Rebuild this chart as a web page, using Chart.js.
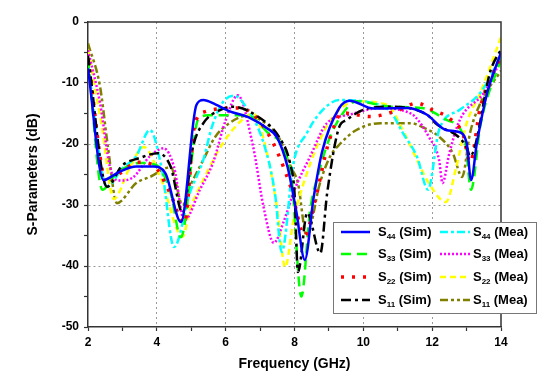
<!DOCTYPE html>
<html>
<head>
<meta charset="utf-8">
<script src="https://cdn.jsdelivr.net/npm/chart.js@4"></script>
<style>
  body { margin: 0; background: #fff; }
  #wrap { width: 550px; height: 387px; }
</style>
</head>
<body>
<div id="wrap"><canvas id="sparams"></canvas></div>
<script>
// values (GHz, dB)
const s44SimX = [2, 2.45, 2.9, 3.4, 3.9, 4.25, 4.7, 5.15, 5.35, 5.7, 6.1, 6.7, 7.2, 7.5, 7.8, 8.05, 8.3, 8.55, 8.8, 9.3, 9.6, 10.3, 11.3, 11.85, 12.4, 12.75, 13.0, 13.13, 13.3, 13.6, 14];
const s44SimY = [-7.6, -25.9, -24.6, -23.7, -23.7, -24.8, -32.8, -13.6, -12.8, -13.5, -14.6, -15.7, -17.4, -19, -23.8, -31, -39, -29, -21.3, -14.1, -12.9, -14.2, -14.1, -15.2, -17.7, -18, -19.8, -25.9, -19.8, -11.6, -5];

const s33SimX = [2, 2.42, 2.8, 3.5, 4.0, 4.4, 4.7, 5.2, 5.5, 5.8, 6.6, 7.2, 7.9, 8.2, 8.45, 8.7, 9.0, 9.4, 9.8, 10.8, 11.7, 12.4, 12.95, 13.13, 13.4, 14];
const s33SimY = [-6, -27.5, -25, -23.1, -23.5, -28, -35.3, -16, -15.3, -15.3, -15.3, -18, -25, -45, -31, -24.8, -19.3, -15, -13, -13.9, -14.1, -16, -19.3, -27.5, -17, -6];

const s22SimX = [2, 2.55, 3.0, 3.45, 3.9, 4.38, 4.8, 5.1, 5.4, 6.4, 7.2, 7.87, 8.3, 8.6, 9.0, 9.4, 10.2, 11.0, 11.56, 12.0, 12.5, 12.9, 13.1, 13.4, 14];
const s22SimY = [-6, -26.5, -24.5, -23, -23.5, -28, -33, -16.9, -14.7, -14.1, -18, -26.7, -35, -29.2, -19.6, -14.9, -15.5, -14.5, -13.3, -14.4, -15.8, -18.5, -23, -14, -5.5];

const s11SimX = [2, 2.55, 3.0, 3.5, 4.03, 4.4, 4.75, 5.05, 5.35, 5.85, 6.2, 6.85, 7.6, 7.87, 8.0, 8.1, 8.37, 8.75, 8.95, 9.3, 9.5, 10.0, 10.8, 11.85, 12.1, 13.0, 13.1, 13.7, 14];
const s11SimY = [-5.5, -27, -23.5, -22.3, -21.5, -23.7, -31.3, -20.5, -16.6, -14.4, -13.9, -15.2, -19.3, -23.1, -28, -41, -31.3, -37.9, -28, -17.2, -16.1, -14.4, -13.9, -15.2, -16.6, -20.5, -22, -7.9, -4.5];

const s44MeaX = [2, 2.55, 3.0, 3.4, 3.8, 4.15, 4.5, 4.96, 5.35, 5.6, 5.9, 6.25, 6.6, 7.1, 7.43, 7.63, 7.97, 8.36, 8.74, 9.3, 10.3, 10.8, 11.15, 11.56, 11.88, 12.2, 12.8, 13.4, 13.9, 14];
const s44MeaY = [-7, -27, -24, -22, -17.7, -24.3, -36.9, -28, -22.6, -17.2, -13.3, -12.1, -14, -19.8, -28, -37.7, -23.1, -18.2, -14.9, -12.8, -13.3, -14.8, -18.2, -22.1, -27.5, -17.7, -14.4, -11.6, -6.7, -5.5];

const s33MeaX = [2, 2.35, 2.64, 2.9, 3.3, 3.8, 4.2, 4.5, 4.8, 5.25, 5.63, 6.0, 6.35, 6.8, 7.1, 7.4, 7.7, 8.0, 8.45, 8.94, 9.6, 10.5, 11.3, 11.5, 11.9, 12.2, 12.3, 12.5, 12.8, 13.5, 14];
const s33MeaY = [-4.6, -13.3, -23.8, -26, -25.5, -22, -20.7, -23.8, -32.5, -27.5, -23.1, -16.1, -12, -20.5, -30.3, -36.2, -32.5, -27.5, -22.1, -16.6, -15.2, -14.1, -14.8, -15.5, -18.8, -22.6, -26.4, -21.5, -16.1, -11.6, -6.2];

const s22MeaX = [2, 2.4, 2.75, 3.2, 3.62, 4.1, 4.75, 4.96, 5.35, 5.85, 6.2, 6.6, 6.8, 7.2, 7.5, 7.73, 7.97, 8.36, 8.83, 9.3, 9.8, 10.7, 11.1, 11.56, 11.9, 12.4, 12.7, 13.0, 13.4, 14];
const s22MeaY = [-4.5, -17, -29, -24, -20.5, -25.4, -35.2, -30.8, -25.9, -20.5, -17.7, -15.5, -15, -21.5, -30.8, -40.2, -32.5, -24.8, -18.2, -14.4, -13, -13.6, -17.2, -22.6, -26.4, -29.5, -23.8, -16.6, -11.6, -2.5];

const s11MeaX = [2, 2.35, 2.58, 2.84, 3.4, 3.8, 4.4, 4.75, 4.96, 5.35, 5.7, 6.1, 6.6, 7.0, 7.58, 7.9, 8.1, 8.35, 8.74, 9.03, 9.32, 9.8, 10.5, 11.4, 11.7, 12.2, 12.6, 12.87, 13.1, 13.4, 14];
const s11MeaY = [-3.5, -10.6, -20.5, -29.7, -26.4, -25.4, -23.8, -30, -27, -22.6, -18.8, -16.6, -15.4, -16, -19.3, -23.8, -26.4, -35, -26.4, -22.1, -20, -17.7, -16.6, -16.6, -17.2, -18.8, -21.5, -25.4, -18.2, -13.3, -8];

const xTicks = [2, 4, 6, 8, 10, 12, 14];
const yTicks = [0, -10, -20, -30, -40, -50];

const FONT = "Arial, 'Liberation Sans', sans-serif";

const pts = (xs, ys) => xs.map((x, i) => ({ x: x, y: ys[i] }));

function series(sub, kind, xs, ys, color, dash, width) {
  return {
    sub: sub, kind: kind,
    data: pts(xs, ys),
    borderColor: color,
    borderDash: dash,
    borderWidth: width || 2.5,
    pointRadius: 0,
    fill: false,
    cubicInterpolationMode: 'monotone'
  };
}

// first one ends up on top
const datasets = [
  series('44', 'Sim', s44SimX, s44SimY, '#0000ff', []),
  series('11', 'Sim', s11SimX, s11SimY, '#000000', [10, 4, 3, 4]),
  series('22', 'Sim', s22SimX, s22SimY, '#ff0000', [3, 8], 3.5),
  series('33', 'Sim', s33SimX, s33SimY, '#00ff00', [10, 6]),
  series('44', 'Mea', s44MeaX, s44MeaY, '#00ffff', [8, 3, 3, 3]),
  series('33', 'Mea', s33MeaX, s33MeaY, '#ff00ff', [2, 2]),
  series('22', 'Mea', s22MeaX, s22MeaY, '#ffff00', [6, 4]),
  series('11', 'Mea', s11MeaX, s11MeaY, '#808000', [8, 3, 3, 3, 3, 3])
];

const frame = {
  id: 'frame',
  afterDatasetsDraw(chart) {
    const { ctx, chartArea: a } = chart;
    ctx.save();
    ctx.strokeStyle = '#333';
    ctx.lineWidth = 1.5;
    ctx.beginPath();
    ctx.moveTo(a.left, a.top);
    ctx.lineTo(a.right, a.top);
    ctx.lineTo(a.right, a.bottom);
    ctx.stroke();
    ctx.restore();
  }
};

// legend with subscripts, two columns (Sim | Mea)
const legendBox = {
  id: 'legendBox',
  afterDraw(chart) {
    const ctx = chart.ctx;
    const bx = 333, by = 222, bw = 203, bh = 91;
    ctx.save();
    ctx.fillStyle = '#fff';
    ctx.fillRect(bx, by, bw, bh);
    ctx.strokeStyle = '#777';
    ctx.lineWidth = 1;
    ctx.strokeRect(bx + 0.5, by + 0.5, bw, bh);
    const order = ['44', '33', '22', '11'];
    const rows = [232, 254, 277, 300];
    const cols = { Sim: [341, 370, 378], Mea: [440, 470, 473] };
    datasets.forEach(ds => {
      const r = rows[order.indexOf(ds.sub)];
      const c = cols[ds.kind];
      ctx.strokeStyle = ds.borderColor;
      ctx.lineWidth = ds.borderWidth;
      ctx.setLineDash(ds.borderDash);
      ctx.beginPath();
      ctx.moveTo(c[0], r);
      ctx.lineTo(c[1], r);
      ctx.stroke();
      ctx.setLineDash([]);
      ctx.fillStyle = '#000';
      ctx.textBaseline = 'middle';
      ctx.textAlign = 'left';
      let x = c[2];
      ctx.font = 'bold 13px ' + FONT;
      ctx.fillText('S', x, r);
      x += ctx.measureText('S').width;
      ctx.font = 'bold 8px ' + FONT;
      ctx.fillText(ds.sub, x, r + 5);
      x += ctx.measureText(ds.sub).width;
      ctx.font = 'bold 13px ' + FONT;
      ctx.fillText(' (' + ds.kind + ')', x, r);
    });
    ctx.restore();
  }
};

const gridColor = (edges, major) => c => {
  const v = c.tick ? c.tick.value : null;
  if (v === null || edges.includes(v)) return 'rgba(0,0,0,0)';
  return major.includes(v) ? '#9a9a9a' : 'rgba(0,0,0,0)';
};

new Chart(document.getElementById('sparams'), {
  type: 'line',
  data: { datasets: datasets },
  options: {
    responsive: true,
    maintainAspectRatio: false,
    animation: false,
    layout: { padding: { left: 0, top: 22, right: 49, bottom: 0 } },
    plugins: { legend: { display: false }, tooltip: { enabled: false } },
    scales: {
      x: {
        type: 'linear',
        min: 2, max: 14,
        afterFit: s => { s.height = 60; },
        ticks: {
          stepSize: 1, autoSkip: false, maxRotation: 0, padding: 4,
          color: '#000', font: { family: FONT, size: 12, weight: 'bold' },
          callback: v => xTicks.includes(v) ? String(v) : ''
        },
        grid: {
          color: gridColor([2, 14], xTicks), tickColor: '#333',
          tickLength: 4, lineWidth: 1, tickWidth: 1.2
        },
        border: { display: true, color: '#333', width: 1.5, dash: [2, 3] },
        title: {
          display: true, text: 'Frequency (GHz)', color: '#000',
          font: { family: FONT, size: 14, weight: 'bold' },
          padding: { top: 0, bottom: 14 }
        }
      },
      y: {
        min: -50, max: 0,
        afterFit: s => { s.width = 88; },
        ticks: {
          stepSize: 5, autoSkip: false, padding: 5,
          color: '#000', font: { family: FONT, size: 12, weight: 'bold' },
          callback: v => yTicks.includes(v) ? String(v) : ''
        },
        grid: {
          color: gridColor([0, -50], yTicks), tickColor: '#333',
          tickLength: 4, lineWidth: 1, tickWidth: 1.2
        },
        border: { display: true, color: '#333', width: 1.5, dash: [2, 3] },
        title: {
          display: true, text: 'S-Parameters (dB)', color: '#000',
          font: { family: FONT, size: 14, weight: 'bold' },
          padding: { top: 25, bottom: 0 }
        }
      }
    }
  },
  plugins: [frame, legendBox]
});
</script>
</body>
</html>
